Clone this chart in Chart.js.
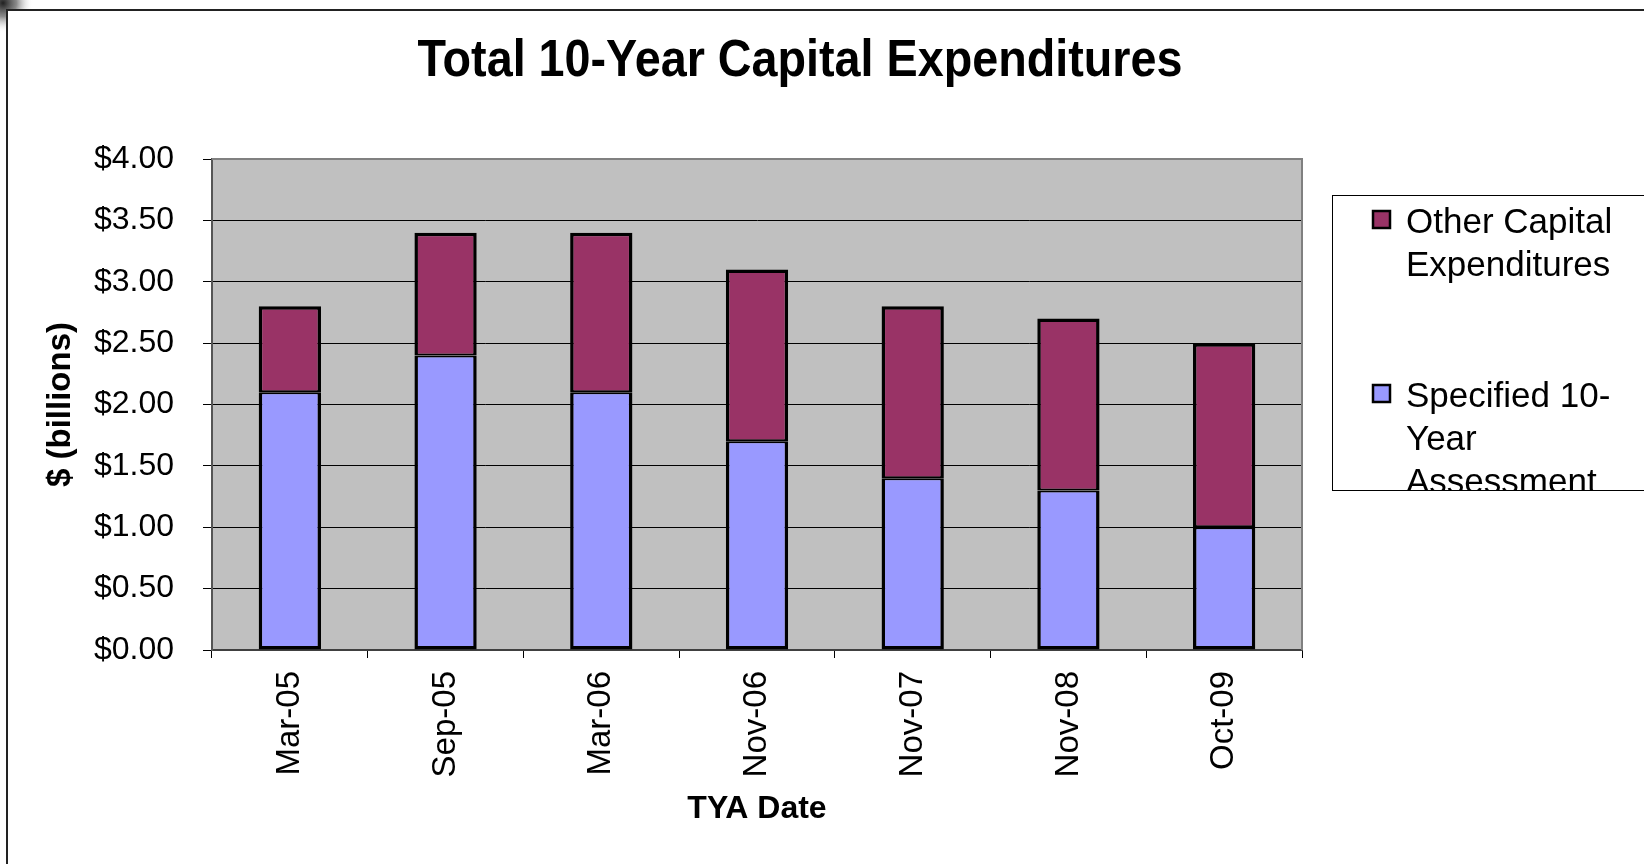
<!DOCTYPE html>
<html>
<head>
<meta charset="utf-8">
<script src="https://cdn.jsdelivr.net/npm/chart.js@4.4.0/dist/chart.umd.min.js"></script>
<style>
  html, body { margin: 0; padding: 0; background: #fff; }
  #wrap { width: 1644px; height: 864px; }
</style>
</head>
<body>
<div id="wrap"><canvas id="chart" width="1644" height="864"></canvas></div>
<script>
// data ($ billions)
const categories = ["Mar-05", "Sep-05", "Mar-06", "Nov-06", "Nov-07", "Nov-08", "Oct-09"];
const specified = [2.1, 2.4, 2.1, 1.7, 1.4, 1.3, 1.0];
const otherCapex = [0.7, 1.0, 1.3, 1.4, 1.4, 1.4, 1.5];
const yMin = 0, yMax = 4, yStep = 0.5;

// series names, wrapped the way the legend shows them
const specifiedName = ["Specified 10-", "Year", "Assessment"];
const otherName = ["Other Capital", "Expenditures"];
const chartTitle = "Total 10-Year Capital Expenditures";

const FONT = "'Liberation Sans', Arial, Helvetica, sans-serif";
const canvasChart = document.getElementById("chart");

// gray plot area + outer frame with its corner shadow
const plotBg = {
  id: "plotBg",
  beforeDraw(chart) {
    const { ctx, chartArea: a } = chart;
    ctx.save();
    const g = ctx.createRadialGradient(3, 3, 0, 3, 3, 30);
    g.addColorStop(0, "rgba(20,20,20,0.95)");
    g.addColorStop(0.45, "rgba(60,60,60,0.6)");
    g.addColorStop(1, "rgba(255,255,255,0)");
    ctx.fillStyle = g;
    ctx.fillRect(0, 0, 40, 40);
    ctx.fillStyle = "#fff";
    ctx.fillRect(8, 11, 40, 40);
    ctx.strokeStyle = "#222";
    ctx.lineWidth = 2;
    ctx.beginPath();
    ctx.moveTo(7, 864);
    ctx.lineTo(7, 10);
    ctx.lineTo(1644, 10);
    ctx.stroke();
    ctx.fillStyle = "#c0c0c0";
    ctx.fillRect(a.left, a.top, a.width, a.height);

    // title, a bit condensed like the original
    ctx.fillStyle = "#000";
    ctx.font = "bold 52px " + FONT;
    ctx.textAlign = "center";
    ctx.textBaseline = "alphabetic";
    const w = ctx.measureText(chartTitle).width;
    ctx.translate(800, 76);
    ctx.scale(765 / w, 1);
    ctx.fillText(chartTitle, 0, 0);
    ctx.restore();
  },
  beforeDatasetsDraw(chart) {
    const { ctx, chartArea: a } = chart;
    ctx.save();
    ctx.strokeStyle = "#808080";
    ctx.lineWidth = 2;
    ctx.beginPath();
    ctx.moveTo(a.left, a.top);
    ctx.lineTo(a.right, a.top);
    ctx.lineTo(a.right, a.bottom);
    ctx.stroke();
    ctx.restore();
  },
};

// legend box drawn by hand so the long name can be cut off like the original
const boxLegend = {
  id: "boxLegend",
  afterDraw(chart) {
    const ctx = chart.ctx;
    const ds = chart.data.datasets;
    const items = [
      { lines: otherName, color: ds[1].backgroundColor, base: 233 },
      { lines: specifiedName, color: ds[0].backgroundColor, base: 407 },
    ];
    const bx = 1332.5, by = 195.5, bw = 400, bh = 295;
    ctx.save();
    ctx.fillStyle = "#fff";
    ctx.fillRect(bx, by, bw, bh);
    ctx.beginPath();
    ctx.rect(bx, by, bw, bh);
    ctx.clip();
    ctx.font = "35px " + FONT;
    ctx.textBaseline = "alphabetic";
    ctx.textAlign = "left";
    items.forEach((item) => {
      ctx.fillStyle = item.color;
      ctx.fillRect(1373, item.base - 22, 17, 17);
      ctx.strokeStyle = "#000";
      ctx.lineWidth = 2.5;
      ctx.strokeRect(1373, item.base - 22, 17, 17);
      ctx.fillStyle = "#000";
      item.lines.forEach((t, i) => ctx.fillText(t, 1406, item.base + i * 43));
    });
    ctx.restore();
    ctx.save();
    ctx.strokeStyle = "#000";
    ctx.lineWidth = 1;
    ctx.strokeRect(bx, by, bw, bh);
    ctx.restore();
  },
};

const config = {
  type: "bar",
  data: {
    labels: categories,
    datasets: [
      {
        label: specifiedName.join(" "),
        data: specified,
        backgroundColor: "#9999ff",
        borderColor: "#000",
        borderWidth: { left: 3.5, right: 3.5, bottom: 3.5, top: 2 },
        borderSkipped: false,
      },
      {
        label: otherName.join(" "),
        data: otherCapex,
        backgroundColor: "#993366",
        borderColor: "#000",
        borderWidth: { left: 3.5, right: 3.5, top: 3.5, bottom: 2 },
        borderSkipped: false,
      },
    ],
  },
  options: {
    responsive: false,
    devicePixelRatio: 1,
    animation: false,
    layout: { padding: { left: 20, right: 342, top: 159, bottom: 36 } },
    datasets: { bar: { categoryPercentage: 1, barPercentage: 0.4 } },
    plugins: {
      legend: { display: false },
      tooltip: { enabled: false },
      title: { display: false },
    },
    scales: {
      x: {
        stacked: true,
        offset: true,
        afterFit: (scale) => { scale.height = 178; },
        grid: {
          offset: true,
          drawOnChartArea: false,
          drawTicks: true,
          tickLength: 8,
          tickColor: "#000",
        },
        border: { display: true, color: "#404040", width: 2 },
        ticks: {
          minRotation: 90,
          maxRotation: 90,
          autoSkip: false,
          padding: 13,
          color: "#000",
          font: { family: FONT, size: 33 },
        },
        title: {
          display: true,
          text: "TYA Date",
          color: "#000",
          font: { family: FONT, size: 32, weight: "bold" },
          padding: { top: 12, bottom: 0 },
        },
      },
      y: {
        stacked: true,
        min: yMin,
        max: yMax,
        afterFit: (scale) => { scale.width = 192; },
        grid: {
          color: "#000",
          lineWidth: 1,
          tickLength: 9,
          tickColor: "#000",
        },
        border: { display: true, color: "#555", width: 2 },
        ticks: {
          stepSize: yStep,
          padding: 29,
          color: "#000",
          font: { family: FONT, size: 32 },
          callback: (v) => "$" + Number(v).toFixed(2),
        },
        title: {
          display: true,
          text: "$ (billions)",
          color: "#000",
          font: { family: FONT, size: 33, weight: "bold" },
          padding: { top: 21, bottom: 15 },
        },
      },
    },
  },
  plugins: [plotBg, boxLegend],
};

new Chart(canvasChart, config);
</script>
</body>
</html>
